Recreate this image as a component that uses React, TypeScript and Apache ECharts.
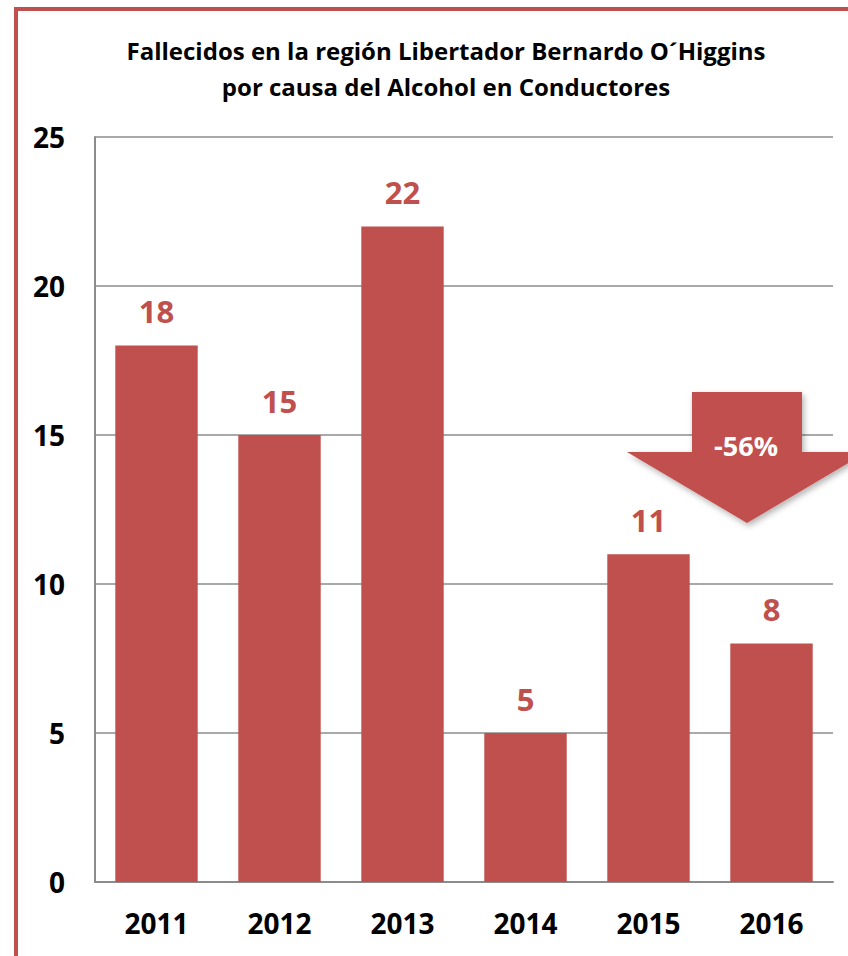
import React, { useEffect, useRef } from "react";
import * as echarts from "echarts";

const years = ["2011", "2012", "2013", "2014", "2015", "2016"];
const fallecidos = [18, 15, 22, 5, 11, 8];
const titleLines = [
  "Fallecidos en la región Libertador Bernardo O´Higgins",
  "por causa del Alcohol en Conductores",
];
const arrowLabel = "-56%";

const RED = "#C0504D";
const FONT = "'Open Sans', 'Noto Sans', sans-serif";

export default function App() {
  const ref = useRef<HTMLDivElement>(null);
  useEffect(() => {
    if (!ref.current) return;
    const chart = echarts.init(ref.current, null, { renderer: "svg" });
    chart.setOption({
      animation: false,
      backgroundColor: "#ffffff",
      title: {
        text: titleLines.join("\n"),
        left: 441,
        textAlign: "center",
        top: 27,
        textStyle: {
          fontFamily: FONT,
          fontWeight: "bold",
          fontSize: 24,
          lineHeight: 36,
          color: "#000",
        },
      },
      grid: { left: 95, right: 15, top: 137, bottom: 74 },
      xAxis: {
        type: "category",
        data: years,
        axisLine: { show: true, lineStyle: { color: "#8c8c8c", width: 2 } },
        axisTick: { show: false },
        axisLabel: {
          margin: 27,
          fontFamily: FONT,
          fontWeight: "bold",
          fontSize: 28,
          color: "#000",
        },
      },
      yAxis: {
        type: "value",
        min: 0,
        max: 25,
        interval: 5,
        axisLine: { show: true, lineStyle: { color: "#8c8c8c", width: 2 } },
        axisTick: { show: false },
        splitLine: { lineStyle: { color: "#8c8c8c", width: 1.5 } },
        axisLabel: {
          margin: 30,
          fontFamily: FONT,
          fontWeight: "bold",
          fontSize: 28,
          color: "#000",
        },
      },
      series: [
        {
          type: "bar",
          data: fallecidos,
          barCategoryGap: "33%",
          itemStyle: { color: RED },
          label: {
            show: true,
            position: "top",
            distance: 19,
            fontFamily: FONT,
            fontWeight: "bold",
            fontSize: 31,
            color: RED,
          },
          z: 2,
        },
      ],
      graphic: [
        {
          type: "rect",
          shape: { x: 16, y: 9, width: 900, height: 1000 },
          style: { fill: "none", stroke: RED, lineWidth: 4 },
          z: 10,
        },
        {
          type: "polygon",
          shape: {
            points: [
              [692, 392],
              [802, 392],
              [802, 452],
              [867, 452],
              [747, 523],
              [627, 452],
              [692, 452],
            ],
          },
          style: {
            fill: RED,
            shadowBlur: 6,
            shadowOffsetX: 2,
            shadowOffsetY: 3,
            shadowColor: "rgba(0,0,0,0.3)",
          },
          z: 20,
        },
        {
          type: "text",
          x: 746,
          y: 445,
          style: {
            text: arrowLabel,
            fill: "#fff",
            fontFamily: FONT,
            fontWeight: "bold",
            fontSize: 27,
            align: "center",
            verticalAlign: "middle",
          },
          z: 21,
        },
      ],
    });
    return () => chart.dispose();
  }, []);
  return (
    <div
      ref={ref}
      style={{ position: "fixed", left: 0, top: 0, width: 848, height: 956 }}
    />
  );
}
